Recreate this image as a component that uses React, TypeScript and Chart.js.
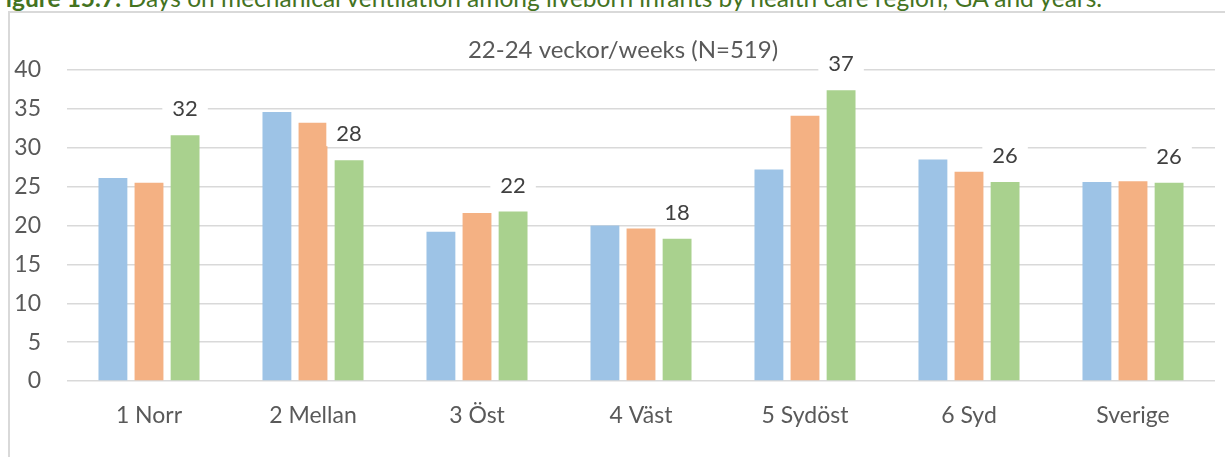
import { useEffect, useRef } from "react";
import { Chart, registerables } from "chart.js";

Chart.register(...registerables);

const categories = ["1 Norr", "2 Mellan", "3 Öst", "4 Väst", "5 Sydöst", "6 Syd", "Sverige"];
const seriesNames = ["Period 1", "Period 2", "Period 3"];
const seriesBlue = [26.1, 34.6, 19.2, 20.0, 27.2, 28.5, 25.6];
const seriesOrange = [25.5, 33.2, 21.6, 19.6, 34.1, 26.9, 25.7];
const seriesGreen = [31.6, 28.4, 21.8, 18.3, 37.4, 25.6, 25.5];
const greenLabels = ["32", "28", "22", "18", "37", "26", "26"];
const yTickValues = [0, 5, 10, 15, 20, 25, 30, 35, 40];

const chartTitle = "22-24 veckor/weeks (N=519)";
const captionBold = "Figure 15.7:";
const captionRest = " Days on mechanical ventilation among liveborn infants by health care region, GA and years.";

const FONT = "Lato, 'Open Sans', sans-serif";

const labelPlugin = {
  id: "greenLabels",
  afterDatasetsDraw(chart: any) {
    const ctx = chart.ctx;
    const meta = chart.getDatasetMeta(2);
    ctx.save();
    ctx.font = `22px ${FONT}`;
    meta.data.forEach((bar: any, i: number) => {
      const txt = greenLabels[i];
      const w = ctx.measureText(txt).width + 20;
      const h = 26;
      const cx = bar.x;
      const cy = bar.y - 27;
      ctx.fillStyle = "#ffffff";
      ctx.fillRect(cx - w / 2, cy - h / 2, w, h);
      ctx.fillStyle = "#404040";
      ctx.textAlign = "center";
      ctx.textBaseline = "middle";
      ctx.fillText(txt, cx, cy + 1);
    });
    ctx.restore();
  },
};

const titlePlugin = {
  id: "innerTitle",
  afterDraw(chart: any) {
    const ctx = chart.ctx;
    ctx.save();
    ctx.font = `24px ${FONT}`;
    ctx.fillStyle = "#595959";
    ctx.textAlign = "center";
    ctx.textBaseline = "middle";
    ctx.fillText(chartTitle, 623, 50);
    ctx.restore();
  },
};

export default function App() {
  const ref = useRef<HTMLCanvasElement | null>(null);

  useEffect(() => {
    if (!ref.current) return;
    const chart = new Chart(ref.current, {
      type: "bar",
      data: {
        labels: categories,
        datasets: [
          { label: seriesNames[0], data: seriesBlue, backgroundColor: "#9dc3e6" },
          { label: seriesNames[1], data: seriesOrange, backgroundColor: "#f4b183" },
          { label: seriesNames[2], data: seriesGreen, backgroundColor: "#a9d18e" },
        ],
      },
      options: {
        animation: false,
        responsive: false,
        devicePixelRatio: 1,
        layout: { padding: { left: 0, right: 10, top: 70, bottom: 0 } },
        datasets: { bar: { categoryPercentage: 0.66, barPercentage: 0.8 } },
        plugins: {
          legend: { display: false },
          tooltip: { enabled: false },
          title: { display: false, text: chartTitle },
        },
        scales: {
          x: {
            grid: { display: false, drawTicks: false },
            border: { display: false },
            ticks: { color: "#595959", font: { family: FONT, size: 23 }, padding: 21 },
            afterFit: (s: any) => {
              s.height = 76;
            },
          },
          y: {
            min: 0,
            max: 40,
            afterBuildTicks: (s: any) => {
              s.ticks = yTickValues.map((v) => ({ value: v }));
            },
            grid: { color: "#d9d9d9", lineWidth: 1.5, drawTicks: false },
            border: { display: false },
            ticks: { color: "#595959", font: { family: FONT, size: 23 }, padding: 26 },
            afterFit: (s: any) => {
              s.width = 67;
            },
          },
        },
      },
      plugins: [labelPlugin, titlePlugin],
    });
    return () => chart.destroy();
  }, []);

  return (
    <div style={{ position: "fixed", left: 0, top: 0, width: 1225, height: 457, overflow: "hidden", background: "#fff" }}>
      <div
        style={{
          position: "absolute",
          left: -8,
          top: -15,
          whiteSpace: "nowrap",
          fontFamily: FONT,
          fontSize: 24.5,
          lineHeight: "26px",
          color: "#44731f",
        }}
      >
        <b>{captionBold}</b>
        {captionRest}
      </div>
      <div
        style={{
          position: "absolute",
          left: 8,
          top: 11,
          width: 1300,
          height: 600,
          border: "2px solid #d9d9d9",
          boxSizing: "border-box",
        }}
      />
      <canvas ref={ref} width={1225} height={457} style={{ position: "absolute", left: 0, top: 0 }} />
    </div>
  );
}
